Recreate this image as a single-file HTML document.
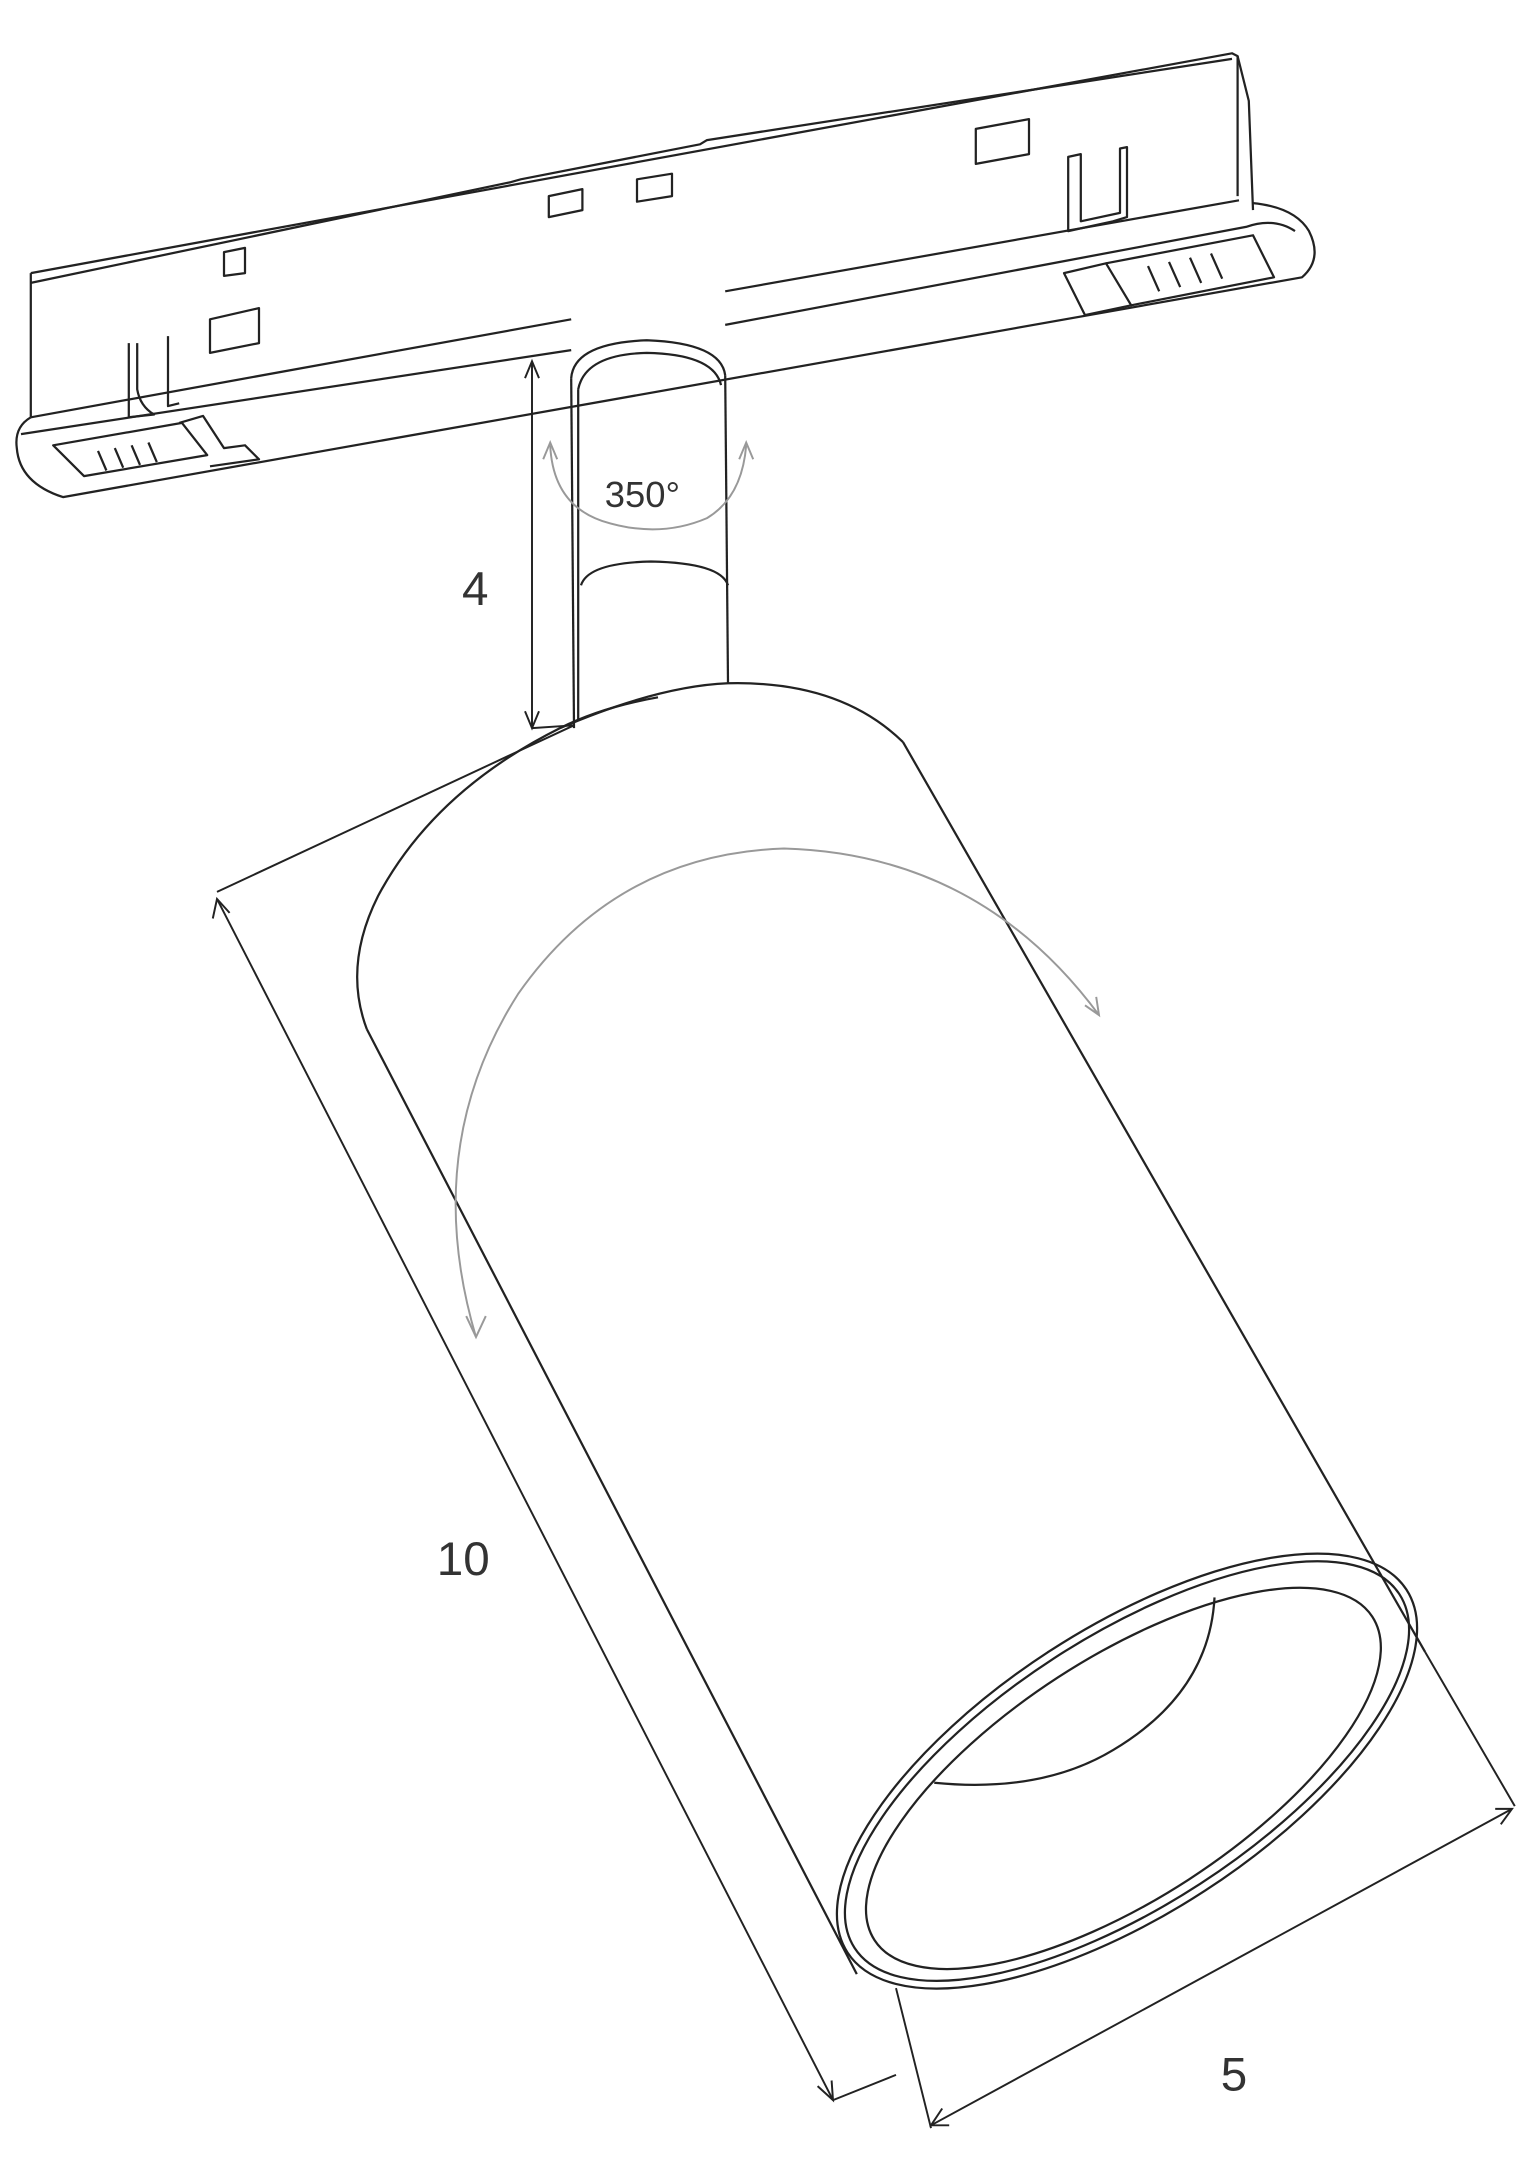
<!DOCTYPE html>
<html><head><meta charset="utf-8"><style>
html,body{margin:0;padding:0;background:#fff;}
svg{display:block;}
text{font-family:"Liberation Sans",sans-serif;fill:#333;}
</style></head><body>
<svg width="1540" height="2180" viewBox="0 0 1100 1557" xmlns="http://www.w3.org/2000/svg">
<g fill="none" stroke="#222" stroke-width="1.6" stroke-linejoin="round">
<!-- track adapter -->
<path d="M22,195 L880,38 L884,40 L884,140"/>
<path d="M22,202 L365,130 L372,128 L500,103 L505,100 L880,42"/>
<path d="M22,195 L22,298"/>
<path d="M884,40 L892,72 L895,150"/>
<path d="M22,298 L408,228"/>
<path d="M518,208 L885,143"/>
<path d="M22,298 Q10,305 12,320 Q14,345 45,355 L930,198 Q945,185 935,165 Q925,148 895,145"/>
<path d="M15,310 L408,250"/>
<path d="M518,232 L890,162 Q910,155 925,165"/>
<!-- left grille -->
<path d="M38,318 L130,302 L148,325 L60,340 Z"/>
<path d="M128,302 L145,297 L160,320 L175,318 L185,328 L150,333"/>
<path d="M70,322 L76,336 M82,320 L88,334 M94,318 L100,332 M106,316 L112,330"/>
<!-- right grille -->
<path d="M760,195 L790,188 L808,218 L775,225 Z"/>
<path d="M790,188 L895,168 L910,198 L808,218"/>
<path d="M820,190 L828,208 M835,187 L843,205 M850,184 L858,202 M865,181 L873,199"/>
<!-- slots -->
<path d="M92,245 L92,298 L110,296 Q100,290 98,278 L98,245"/>
<path d="M120,240 L120,290 L128,288"/>
<path d="M150,228 L185,220 L185,245 L150,252 Z"/>
<path d="M160,180 L175,177 L175,195 L160,197 Z"/>
<path d="M392,140 L416,135 L416,150 L392,155 Z"/>
<path d="M455,128 L480,124 L480,140 L455,144 Z"/>
<path d="M697,92 L735,85 L735,110 L697,117 Z"/>
<path d="M763,112 L763,165 L795,158 L805,155 L805,105 L800,106 L800,152 L772,158 L772,110 Z"/>
<!-- stem -->
<path d="M408,270 Q410,245 462,243 Q515,245 518,268"/>
<path d="M413,278 Q418,253 462,252 Q510,253 515,275"/>
<path d="M408,270 L410,520"/>
<path d="M413,278 L413,515"/>
<path d="M518,268 L520,488"/>
<path d="M415,418 Q420,402 465,401 Q515,402 520,418"/>
<!-- body -->
<path d="M262,735 Q245,690 270,640 Q310,565 400,520 Q470,490 520,488 Q600,486 645,530"/>
<path d="M400,520 Q430,505 470,498"/>
<path d="M262,735 L612,1410"/>
<path d="M645,530 L1018,1180"/>
<!-- front ring -->
<g transform="translate(805,1265) rotate(-33)">
<ellipse cx="0" cy="0" rx="238" ry="102"/>
<ellipse cx="0" cy="0" rx="232" ry="96"/>
<ellipse cx="-5" cy="3" rx="212" ry="86"/>
<path d="M-120,-68 Q-60,-20 0,-18 Q80,-15 120,-70"/>
</g>
</g>
<!-- gray rotation arcs -->
<g fill="none" stroke="#999" stroke-width="1.4">
<path d="M340,955 Q300,820 370,710 Q440,610 560,606 Q700,610 785,725"/>
<path d="M333,940 L340,955 L347,940"/>
<path d="M775,718 L785,725 L783,712"/>
<path d="M393,318 Q395,360 430,372 Q470,385 505,370 Q530,355 533,318"/>
<path d="M388,328 L393,316 L398,328 M528,328 L533,316 L538,328"/>
</g>
<!-- dimensions -->
<g fill="none" stroke="#222" stroke-width="1.4">
<path d="M380,258 L380,520"/>
<path d="M375,270 L380,258 L385,270 M375,508 L380,520 L385,508"/>
<path d="M380,520 L410,518"/>
<path d="M155,637 L410,518"/>
<path d="M155,642 L595,1500"/>
<path d="M152,656 L155,642 L164,652 M584,1490 L595,1500 L594,1486"/>
<path d="M595,1500 L640,1482"/>
<path d="M640,1420 L665,1520"/>
<path d="M665,1518 L1080,1292"/>
<path d="M1018,1180 L1082,1290"/>
<path d="M678,1518 L665,1518 L673,1506 M1068,1292 L1080,1292 L1072,1303"/>
</g>
<text x="330" y="432" font-size="34">4</text>
<text x="432" y="362" font-size="26">350°</text>
<text x="312" y="1125" font-size="34">10</text>
<text x="872" y="1493" font-size="34">5</text>
</svg>
</body></html>
